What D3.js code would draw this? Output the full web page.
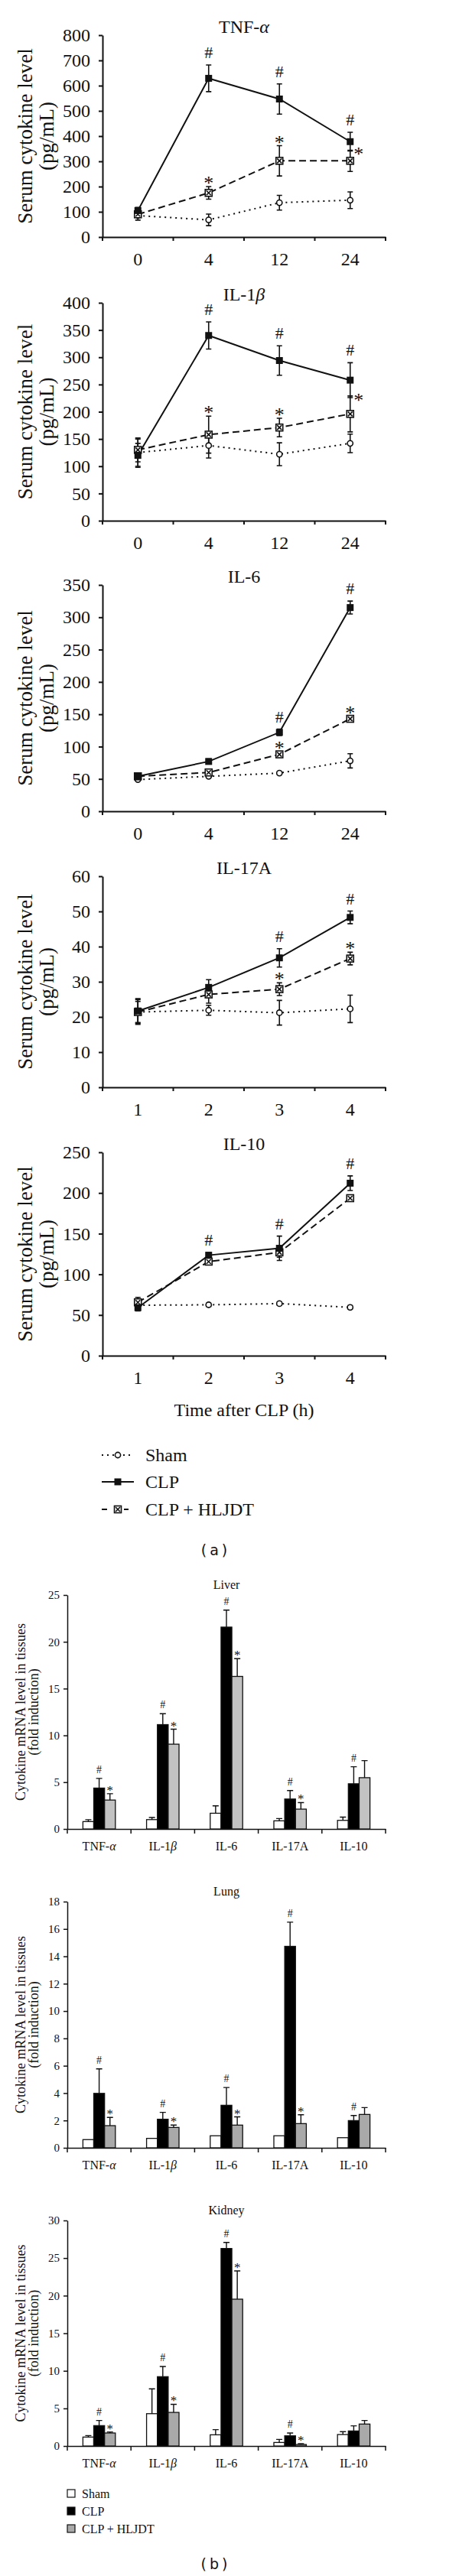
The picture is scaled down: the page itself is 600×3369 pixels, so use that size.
<!DOCTYPE html>
<html><head><meta charset="utf-8">
<script src="https://cdn.jsdelivr.net/npm/d3@7"></script>
<style>
body{margin:0;background:#fff;}
svg{display:block;background:#fff;}
text{font-family:"Liberation Serif","Times New Roman",serif;fill:#111;}
</style></head><body>
<svg id="chart" width="600" height="3369"></svg>
<script>
// ---------------- DATA ----------------
const groups = ["Sham", "CLP", "CLP + HLJDT"];

// (a) serum cytokine levels
const timeHours = ["0", "4", "12", "24"];
const timeIndex = ["1", "2", "3", "4"];

const tnfTicks = [0, 100, 200, 300, 400, 500, 600, 700, 800];
const tnfSham = [85, 68, 136, 146],   tnfShamErr = [18, 23, 29, 33];
const tnfClp = [105, 629, 547, 378],  tnfClpErr = [12, 53, 60, 37];
const tnfHljdt = [90, 175, 302, 302], tnfHljdtErr = [12, 25, 60, 42];

const il1Ticks = [0, 50, 100, 150, 200, 250, 300, 350, 400];
const il1Sham = [125, 138, 122, 142],  il1ShamErr = [25, 23, 21, 17];
const il1Clp = [120, 340, 294, 258],   il1ClpErr = [22, 25, 27, 32];
const il1Hljdt = [130, 158, 171, 196], il1HljdtErr = [22, 34, 17, 33];

const il6Ticks = [0, 50, 100, 150, 200, 250, 300, 350];
const il6Sham = [49, 54, 59, 78],   il6ShamErr = [2, 2, 2, 11];
const il6Clp = [54, 77, 122, 315],  il6ClpErr = [3, 4, 5, 10];
const il6Hljdt = [54, 60, 88, 143], il6HljdtErr = [3, 3, 4, 4];

const il17Ticks = [0, 10, 20, 30, 40, 50, 60];
const il17Sham = [21.4, 21.9, 21.2, 22.3],  il17ShamErr = [3.5, 1.4, 3.5, 3.9];
const il17Clp = [21.7, 28.4, 36.8, 48.3],   il17ClpErr = [3.5, 2.2, 2.6, 1.8];
const il17Hljdt = [21.4, 26.4, 27.9, 36.6], il17HljdtErr = [3.0, 2.5, 1.8, 1.8];

const il10Ticks = [0, 50, 100, 150, 200, 250];
const il10Sham = [62, 62.5, 64, 59.4],      il10ShamErr = [2, 2, 2, 2];
const il10Clp = [59, 123.5, 132, 212],      il10ClpErr = [4, 3, 15, 9];
const il10Hljdt = [65.6, 115.6, 127, 193.6], il10HljdtErr = [6, 3, 6, 4];

// (b) tissue mRNA levels
const cytokines = ["TNF-α", "IL-1β", "IL-6", "IL-17A", "IL-10"];

const liverTicks = [0, 5, 10, 15, 20, 25];
const liverSham = [0.79, 1.0, 1.68, 0.87, 0.92],  liverShamErr = [0.2, 0.22, 0.79, 0.24, 0.35];
const liverClp = [4.37, 11.15, 21.57, 3.2, 4.83], liverClpErr = [1.03, 1.17, 1.82, 0.9, 1.82];
const liverHljdt = [3.09, 9.06, 16.3, 2.12, 5.48], liverHljdtErr = [0.68, 1.6, 1.9, 0.7, 1.82];

const lungTicks = [0, 2, 4, 6, 8, 10, 12, 14, 16, 18];
const lungSham = [0.6, 0.69, 0.88, 0.88, 0.74],  lungShamErr = [0, 0, 0, 0, 0];
const lungClp = [3.98, 2.09, 3.11, 14.73, 1.99], lungClpErr = [1.79, 0.5, 1.3, 1.77, 0.37];
const lungHljdt = [1.62, 1.49, 1.66, 1.77, 2.44], lungHljdtErr = [0.6, 0.17, 0.6, 0.65, 0.5];

const kidneyTicks = [0, 5, 10, 15, 20, 25, 30];
const kidneySham = [1.19, 4.3, 1.49, 0.47, 1.53],  kidneyShamErr = [0.2, 3.3, 0.68, 0.41, 0.37];
const kidneyClp = [2.71, 9.22, 26.27, 1.36, 2.0],  kidneyClpErr = [0.68, 1.36, 0.81, 0.37, 0.68];
const kidneyHljdt = [1.73, 4.47, 19.53, 0.2, 2.92], kidneyHljdtErr = [0.14, 1.08, 3.76, 0.1, 0.47];

// ---------------- PANEL DEFINITIONS ----------------
const serumPanels = [
  {title: "TNF-α", cats: timeHours, ticks: tnfTicks, vals: [tnfSham, tnfClp, tnfHljdt],
   errs: [tnfShamErr, tnfClpErr, tnfHljdtErr], hash: [1, 2, 3], star: [1, 2], starRight: [3]},
  {title: "IL-1β", cats: timeHours, ticks: il1Ticks, vals: [il1Sham, il1Clp, il1Hljdt],
   errs: [il1ShamErr, il1ClpErr, il1HljdtErr], hash: [1, 2, 3], star: [1, 2], starRight: [3]},
  {title: "IL-6", cats: timeHours, ticks: il6Ticks, vals: [il6Sham, il6Clp, il6Hljdt],
   errs: [il6ShamErr, il6ClpErr, il6HljdtErr], hash: [2, 3], star: [2, 3], starRight: []},
  {title: "IL-17A", cats: timeIndex, ticks: il17Ticks, vals: [il17Sham, il17Clp, il17Hljdt],
   errs: [il17ShamErr, il17ClpErr, il17HljdtErr], hash: [2, 3], star: [2, 3], starRight: []},
  {title: "IL-10", cats: timeIndex, ticks: il10Ticks, vals: [il10Sham, il10Clp, il10Hljdt],
   errs: [il10ShamErr, il10ClpErr, il10HljdtErr], hash: [1, 2, 3], star: [], starRight: []}
];
const serumBoxes = [[46, 310], [396, 681], [765, 1061], [1146, 1422], [1507, 1773]];

const tissuePanels = [
  {title: "Liver", ticks: liverTicks, vals: [liverSham, liverClp, liverHljdt],
   errs: [liverShamErr, liverClpErr, liverHljdtErr], hash: [0, 1, 2, 3, 4], star: [0, 1, 2, 3], gray: "#c2c2c2"},
  {title: "Lung", ticks: lungTicks, vals: [lungSham, lungClp, lungHljdt],
   errs: [lungShamErr, lungClpErr, lungHljdtErr], hash: [0, 1, 2, 3, 4], star: [0, 1, 2, 3], gray: "#a9a9a9"},
  {title: "Kidney", ticks: kidneyTicks, vals: [kidneySham, kidneyClp, kidneyHljdt],
   errs: [kidneyShamErr, kidneyClpErr, kidneyHljdtErr], hash: [0, 1, 2, 3], star: [0, 1, 2, 3], gray: "#a9a9a9"}
];
const tissueBoxes = [[2086, 2392], [2487, 2809], [2904, 3199]];

// ---------------- DRAWING ----------------
const svg = d3.select("#chart");
const INK = "#111";

function labelWithGreek(sel, label) {
  const last = label.slice(-1);
  if (last === "α" || last === "β") {
    sel.append("tspan").text(label.slice(0, -1));
    sel.append("tspan").attr("font-style", "italic").text(last);
  } else {
    sel.text(label);
  }
}

function drawMarker(g, kind, cx, cy) {
  if (kind === 0) {
    g.append("circle").attr("cx", cx).attr("cy", cy).attr("r", 3.6)
      .attr("fill", "#fff").attr("stroke", INK).attr("stroke-width", 1.6);
  } else if (kind === 1) {
    g.append("rect").attr("x", cx - 4.5).attr("y", cy - 4.5).attr("width", 9).attr("height", 9).attr("fill", INK);
  } else {
    g.append("rect").attr("x", cx - 4.5).attr("y", cy - 4.5).attr("width", 9).attr("height", 9)
      .attr("fill", "#fff").attr("stroke", INK).attr("stroke-width", 1.6);
    g.append("path").attr("d", `M${cx - 3},${cy - 3}L${cx + 3},${cy + 3}M${cx + 3},${cy - 3}L${cx - 3},${cy + 3}`)
      .attr("stroke", INK).attr("stroke-width", 1.6);
  }
}
const dashes = ["2,5", null, "9,5"];

// ---- (a) line charts
const xLeftA = 134, xRightA = 504;
serumPanels.forEach((p, pi) => {
  const [top, bottom] = serumBoxes[pi];
  const g = svg.append("g");
  const x = d3.scaleBand().domain(p.cats).range([xLeftA, xRightA]).padding(0);
  const y = d3.scaleLinear().domain([0, d3.max(p.ticks)]).range([bottom, top]);
  const cx = i => x(p.cats[i]) + x.bandwidth() / 2;

  // title
  labelWithGreek(g.append("text").attr("x", (xLeftA + xRightA) / 2).attr("y", top - 3)
    .attr("text-anchor", "middle").attr("font-size", 24), p.title);

  // y axis
  const ya = g.append("g").attr("transform", `translate(${xLeftA},0)`)
    .call(d3.axisLeft(y).tickValues(p.ticks).tickSize(5).tickSizeOuter(0).tickPadding(11).tickFormat(d3.format("d")));
  ya.selectAll("path,line").attr("stroke", INK).attr("stroke-width", 2);
  ya.selectAll("text").attr("font-size", 24).attr("font-family", "Liberation Serif").attr("fill", INK);

  // y label
  const mid = (top + bottom) / 2;
  g.append("text").attr("transform", `translate(33,${mid}) rotate(-90)`).attr("text-anchor", "middle")
    .attr("dy", "0.35em").attr("font-size", 27).text("Serum cytokine level");
  g.append("text").attr("transform", `translate(61,${mid}) rotate(-90)`).attr("text-anchor", "middle")
    .attr("dy", "0.35em").attr("font-size", 27).text("(pg/mL)");

  // x axis
  const xa = g.append("g").attr("transform", `translate(0,${bottom})`)
    .call(d3.axisBottom(x).tickSize(0).tickPadding(20));
  xa.select(".domain").attr("stroke", INK).attr("stroke-width", 2);
  xa.selectAll("text").attr("font-size", 24).attr("font-family", "Liberation Serif").attr("fill", INK);
  d3.range(p.cats.length + 1).forEach(k => {
    const xx = xLeftA + k * x.step();
    g.append("line").attr("x1", xx).attr("x2", xx).attr("y1", bottom).attr("y2", bottom + 5)
      .attr("stroke", INK).attr("stroke-width", 2);
  });

  // lines
  const order = [0, 2, 1];
  order.forEach(s => {
    const line = d3.line().x((d, i) => cx(i)).y(d => y(d));
    g.append("path").attr("d", line(p.vals[s])).attr("fill", "none").attr("stroke", INK)
      .attr("stroke-width", 2).attr("stroke-dasharray", dashes[s]);
  });
  // error bars
  order.forEach(s => {
    p.vals[s].forEach((v, i) => {
      const e = p.errs[s][i];
      const x0 = cx(i), y1 = y(v + e), y2 = y(v - e);
      g.append("path").attr("d", `M${x0},${y1}V${y2}M${x0 - 3.5},${y1}H${x0 + 3.5}M${x0 - 3.5},${y2}H${x0 + 3.5}`)
        .attr("stroke", INK).attr("stroke-width", 1.6).attr("fill", "none");
    });
  });
  // markers
  order.forEach(s => {
    p.vals[s].forEach((v, i) => drawMarker(g, s, cx(i), y(v)));
  });
  // significance marks
  p.hash.forEach(i => {
    g.append("text").attr("x", cx(i)).attr("y", y(p.vals[1][i] + p.errs[1][i]) - 9)
      .attr("text-anchor", "middle").attr("font-size", 22).text("#");
  });
  p.star.forEach(i => {
    g.append("text").attr("x", cx(i)).attr("y", y(p.vals[2][i] + p.errs[2][i]) + 4)
      .attr("text-anchor", "middle").attr("font-size", 26).text("*");
  });
  p.starRight.forEach(i => {
    g.append("text").attr("x", cx(i) + 11).attr("y", y(p.vals[2][i] + p.errs[2][i]) + 14)
      .attr("text-anchor", "middle").attr("font-size", 26).text("*");
  });
});

// x axis title for (a)
svg.append("text").attr("x", 319).attr("y", 1852).attr("text-anchor", "middle")
  .attr("font-size", 24).text("Time after CLP (h)");

// legend (a)
const legAY = [1903, 1938, 1974];
groups.forEach((name, s) => {
  const g = svg.append("g");
  const yy = legAY[s];
  g.append("line").attr("x1", 133).attr("x2", 175).attr("y1", yy).attr("y2", yy)
    .attr("stroke", INK).attr("stroke-width", 2).attr("stroke-dasharray", s === 0 ? "2,5" : s === 2 ? "7,7" : null);
  if (s === 2) {
    g.append("rect").attr("x", 146).attr("y", yy - 5).attr("width", 16).attr("height", 10).attr("fill", "#fff");
  }
  drawMarker(g, s, 154, yy);
  g.append("text").attr("x", 190).attr("y", yy + 8).attr("font-size", 24).text(name);
});

svg.append("text").attr("x", 282).attr("y", 2034).attr("text-anchor", "middle")
  .attr("font-family", "DejaVu Sans").attr("font-size", 19).attr("letter-spacing", 4)
  .style("font-family", "'DejaVu Sans',sans-serif").text("(a)");

// ---- (b) bar charts
const xLeftB = 88, xRightB = 504;
tissuePanels.forEach((p, pi) => {
  const [top, bottom] = tissueBoxes[pi];
  const g = svg.append("g");
  const x = d3.scaleBand().domain(cytokines).range([xLeftB, xRightB]).paddingInner(0.49).paddingOuter(0.245);
  const xs = d3.scaleBand().domain([0, 1, 2]).range([0, x.bandwidth()]).padding(0);
  const y = d3.scaleLinear().domain([0, d3.max(p.ticks)]).range([bottom, top]);

  g.append("text").attr("x", (xLeftB + xRightB) / 2).attr("y", top - 8).attr("text-anchor", "middle")
    .attr("font-size", 16).text(p.title);

  const ya = g.append("g").attr("transform", `translate(${xLeftB},0)`)
    .call(d3.axisLeft(y).tickValues(p.ticks).tickSize(5).tickSizeOuter(0).tickPadding(5).tickFormat(d3.format("d")));
  ya.selectAll("path,line").attr("stroke", INK).attr("stroke-width", 1.5);
  ya.selectAll("text").attr("font-size", 15).attr("font-family", "Liberation Serif").attr("fill", INK);

  const mid = (top + bottom) / 2;
  g.append("text").attr("transform", `translate(27,${mid}) rotate(-90)`).attr("text-anchor", "middle")
    .attr("dy", "0.35em").attr("font-size", 18).text("Cytokine mRNA level in tissues");
  g.append("text").attr("transform", `translate(44,${mid}) rotate(-90)`).attr("text-anchor", "middle")
    .attr("dy", "0.35em").attr("font-size", 18).text("(fold induction)");

  const xa = g.append("g").attr("transform", `translate(0,${bottom})`)
    .call(d3.axisBottom(x).tickSize(0).tickPadding(17).tickFormat(() => ""));
  xa.select(".domain").attr("stroke", INK).attr("stroke-width", 1.5);
  xa.selectAll(".tick").each(function(d) {
    const t = d3.select(this).select("text").attr("font-size", 16).attr("fill", INK).attr("dy", null).attr("y", 28);
    labelWithGreek(t, d);
  });
  d3.range(cytokines.length + 1).forEach(k => {
    const xx = xLeftB + k * x.step();
    g.append("line").attr("x1", xx).attr("x2", xx).attr("y1", bottom).attr("y2", bottom + 6)
      .attr("stroke", INK).attr("stroke-width", 1.5);
  });

  const fills = ["#fff", "#000", p.gray];
  cytokines.forEach((c, i) => {
    [0, 1, 2].forEach(s => {
      const v = p.vals[s][i], e = p.errs[s][i];
      const bx = x(c) + xs(s), bw = xs.bandwidth();
      const bcx = bx + bw / 2;
      if (e > 0) {
        g.append("path").attr("d", `M${bcx},${y(v)}V${y(v + e)}M${bcx - 4},${y(v + e)}H${bcx + 4}`)
          .attr("stroke", INK).attr("stroke-width", 1.4).attr("fill", "none");
      }
      g.append("rect").attr("x", bx).attr("y", y(v)).attr("width", bw).attr("height", bottom - y(v))
        .attr("fill", fills[s]).attr("stroke", INK).attr("stroke-width", 1.3);
    });
  });
  p.hash.forEach(i => {
    const bcx = x(cytokines[i]) + xs(1) + xs.bandwidth() / 2;
    g.append("text").attr("x", bcx).attr("y", y(p.vals[1][i] + p.errs[1][i]) - 7)
      .attr("text-anchor", "middle").attr("font-size", 14).text("#");
  });
  p.star.forEach(i => {
    const bcx = x(cytokines[i]) + xs(2) + xs.bandwidth() / 2;
    g.append("text").attr("x", bcx).attr("y", y(p.vals[2][i] + p.errs[2][i]) + 1)
      .attr("text-anchor", "middle").attr("font-size", 17).text("*");
  });
});

// legend (b)
const legBY = [3261, 3284, 3307];
const legBFill = ["#fff", "#000", "#a9a9a9"];
groups.forEach((name, s) => {
  const yy = legBY[s];
  svg.append("rect").attr("x", 88).attr("y", yy - 5).attr("width", 10).attr("height", 10)
    .attr("fill", legBFill[s]).attr("stroke", INK).attr("stroke-width", 1.2);
  svg.append("text").attr("x", 107).attr("y", yy + 5.5).attr("font-size", 16).text(name);
});

svg.append("text").attr("x", 282).attr("y", 3360).attr("text-anchor", "middle")
  .attr("font-size", 19).attr("letter-spacing", 4)
  .style("font-family", "'DejaVu Sans',sans-serif").text("(b)");
</script>
</body></html>
